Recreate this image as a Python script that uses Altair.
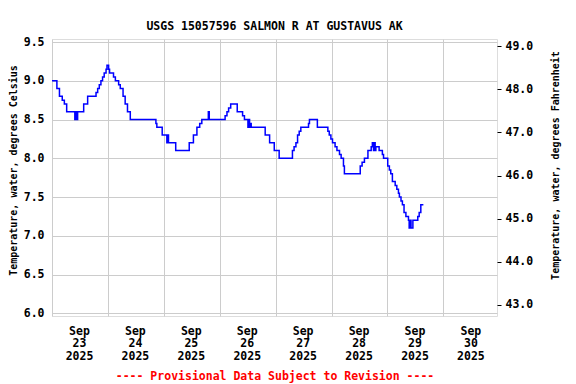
import altair as alt
import pandas as pd

# change points of the step series: hours after 2025-09-23 00:00, temperature (deg C)
hours = [0.0, 2.1, 3.2, 4.4, 5.3, 6.3, 9.8, 10.2, 10.6, 11.0, 13.6, 15.3, 18.9, 19.6,
         20.3, 21.0, 21.7, 22.4, 23.2, 23.6, 24.3, 24.7, 26.4, 27.2, 28.6, 29.3, 30.5,
         31.4, 32.4, 33.6, 44.6, 45.0, 47.3, 49.3, 49.7, 50.0, 53.1, 58.9, 60.7, 62.2,
         63.4, 64.3, 67.1, 67.5, 74.3, 75.1, 75.8, 76.7, 79.5, 81.8, 82.6, 84.1, 84.4,
         84.8, 85.1, 85.5, 91.5, 93.4, 95.4, 97.5, 103.2, 103.9, 104.7, 105.4, 106.1,
         106.8, 110.1, 110.5, 113.9, 118.4, 119.0, 119.7, 120.4, 121.5, 122.3, 123.4,
         124.1, 125.1, 125.5, 132.3, 133.1, 134.1, 135.6, 137.0, 137.5, 138.0, 138.3,
         138.7, 139.0, 140.4, 141.8, 142.3, 144.1, 144.8, 145.4, 146.1, 147.3, 148.0,
         148.7, 149.1, 149.8, 150.4, 151.1, 151.9, 153.0, 153.3, 153.7, 154.1, 154.9,
         157.0, 157.6, 158.3, 159.4]
temps_c = [9.0, 8.9, 8.8, 8.75, 8.7, 8.6, 8.5, 8.6, 8.5, 8.6, 8.7, 8.8, 8.85, 8.9,
           8.95, 9.0, 9.05, 9.1, 9.15, 9.2, 9.15, 9.1, 9.05, 9.0, 8.95, 8.9, 8.8,
           8.7, 8.6, 8.5, 8.45, 8.4, 8.3, 8.2, 8.3, 8.2, 8.1, 8.2, 8.3, 8.4,
           8.45, 8.5, 8.6, 8.5, 8.55, 8.6, 8.65, 8.7, 8.6, 8.55, 8.5, 8.4, 8.5,
           8.4, 8.45, 8.4, 8.3, 8.2, 8.1, 8.0, 8.1, 8.15, 8.2, 8.3, 8.35,
           8.4, 8.45, 8.5, 8.4, 8.35, 8.3, 8.25, 8.2, 8.15, 8.1, 8.05,
           8.0, 7.9, 7.8, 7.9, 7.95, 8.0, 8.1, 8.15, 8.2, 8.1, 8.2,
           8.1, 8.15, 8.1, 8.05, 8.0, 7.9, 7.85, 7.8, 7.7, 7.65, 7.6,
           7.55, 7.5, 7.45, 7.4, 7.3, 7.25, 7.2, 7.1, 7.2, 7.1, 7.2,
           7.25, 7.3, 7.4, 7.4]

days = [23, 24, 25, 26, 27, 28, 29, 30]
c_ticks = [6.0, 6.5, 7.0, 7.5, 8.0, 8.5, 9.0, 9.5]
f_ticks = [43.0, 44.0, 45.0, 46.0, 47.0, 48.0, 49.0]
c_domain = [5.966, 9.539]
f_domain = [c_domain[0] * 1.8 + 32, c_domain[1] * 1.8 + 32]

base = pd.Timestamp("2025-09-23 00:00")
df = pd.DataFrame({
    "time": [(base + pd.Timedelta(hours=h)).strftime("%Y-%m-%dT%H:%M:%S") for h in hours],
    "temp": temps_c,
})

FONT = "DejaVu Sans Mono"
FS = 11.5
TFS = 10

x_enc = alt.X(
    "time:T",
    scale=alt.Scale(domain=[alt.DateTime(year=2025, month=9, date=23, hours=0),
                            alt.DateTime(year=2025, month=9, date=30, hours=23)],
                    nice=False),
    axis=alt.Axis(
        values=[alt.DateTime(year=2025, month=9, date=d) for d in days],
        grid=True, gridColor="#cccccc", gridWidth=1,
        ticks=False, domain=False,
        labelOffset=27, labelFlush=False, labelOverlap=False, labelBound=False,
        labelExpr="[timeFormat(datum.value, '%b'), timeFormat(datum.value, '%d'), timeFormat(datum.value, '%Y')]",
        labelLineHeight=12.8, labelPadding=9, labelAlign="center",
        labelFont=FONT, labelFontSize=FS, labelFontWeight="bold", labelColor="black",
        title="---- Provisional Data Subject to Revision ----",
        titleColor="red", titleFont=FONT, titleFontSize=FS, titleFontWeight="bold",
        titlePadding=8,
    ),
)

left = alt.Chart(df).mark_line(interpolate="step-after", color="#0000ff", strokeWidth=1.5).encode(
    x=x_enc,
    y=alt.Y("temp:Q",
            scale=alt.Scale(domain=c_domain, nice=False, zero=False),
            axis=alt.Axis(values=c_ticks, format=".1f", grid=True, gridColor="#cccccc",
                          ticks=False, domain=False, labelPadding=8,
                          labelFont=FONT, labelFontSize=FS, labelFontWeight="bold",
                          labelColor="black",
                          title="Temperature, water, degrees Celsius",
                          titleFont=FONT, titleFontSize=TFS, titleFontWeight="bold",
                          titleColor="black", titlePadding=5, titleY=131)),
)

right = alt.Chart(df).transform_calculate(
    tf="datum.temp * 1.8 + 32"
).mark_line(strokeOpacity=0).encode(
    x=x_enc,
    y=alt.Y("tf:Q",
            scale=alt.Scale(domain=f_domain, nice=False, zero=False),
            axis=alt.Axis(orient="right", values=f_ticks, format=".1f", grid=False,
                          ticks=True, tickSize=4, tickColor="black", domain=False,
                          labelPadding=4,
                          labelFont=FONT, labelFontSize=FS, labelFontWeight="bold",
                          labelColor="black",
                          title="Temperature, water, degrees Fahrenheit",
                          titleFont=FONT, titleFontSize=TFS, titleFontWeight="bold",
                          titleColor="black", titlePadding=28, titleAngle=270,
                          titleY=126)),
)

chart = alt.layer(left, right).resolve_scale(y="independent").properties(
    width=445, height=277,
    title=alt.TitleParams("USGS 15057596 SALMON R AT GUSTAVUS AK", font=FONT, fontSize=FS,
                          fontWeight="bold", color="black", anchor="middle", frame="group",
                          baseline="bottom", offset=12, dy=19),
    autosize=alt.AutoSizeParams(type="none"),
    padding={"left": 44, "top": 31, "right": 71, "bottom": 68},
).configure_view(stroke="black", strokeWidth=1).configure(background="white")

chart.save("out.html", embed_options={"renderer": "svg", "actions": False})
